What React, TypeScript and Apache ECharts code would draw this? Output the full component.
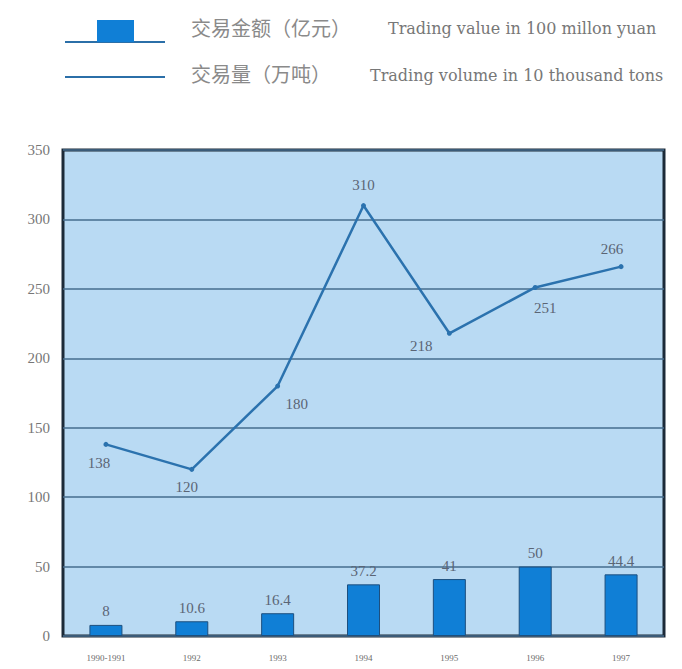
import React, { useEffect, useRef } from "react";
import * as echarts from "echarts";

const categories = ["1990-1991", "1992", "1993", "1994", "1995", "1996", "1997"];
const tradingValue = [8, 10.6, 16.4, 37.2, 41, 50, 44.4];
const tradingVolume = [138, 120, 180, 310, 218, 251, 266];
const volumeLabelOffsets: [number, number][] = [
  [-7, 19],
  [-5, 18],
  [19, 18],
  [0, -21],
  [-28, 13],
  [10, 21],
  [-9, -18],
];

const SERIF = "'Liberation Serif', 'DejaVu Serif', serif";
const WIDE_SERIF = "'DejaVu Serif', serif";
const CJK = "'Noto Sans CJK SC', sans-serif";

export default function App() {
  const ref = useRef<HTMLDivElement>(null);
  useEffect(() => {
    document.body.style.margin = "0";
    if (!ref.current) return;
    const chart = echarts.init(ref.current, undefined, { renderer: "svg" });
    chart.setOption({
      animation: false,
      backgroundColor: "#ffffff",
      grid: {
        left: 63,
        right: 18,
        top: 150,
        bottom: 33,
        show: true,
        backgroundColor: "#b9daf3",
        borderColor: "#1c2a38",
        borderWidth: 3,
      },
      xAxis: {
        type: "category",
        data: categories,
        axisLine: { show: false },
        axisTick: { show: false },
        axisLabel: { color: "#6b6b6b", fontSize: 9, fontFamily: SERIF, margin: 17 },
      },
      yAxis: {
        type: "value",
        min: 0,
        max: 350,
        interval: 50,
        axisLine: { show: false },
        axisTick: { show: false },
        axisLabel: { color: "#777777", fontSize: 15, fontFamily: SERIF, margin: 13 },
        splitLine: { lineStyle: { color: "#466d8e", width: 1.5 } },
      },
      series: [
        {
          type: "bar",
          data: tradingValue,
          barWidth: 33,
          itemStyle: { color: "#107fd6", borderColor: "#1d4f7e", borderWidth: 1 },
          label: {
            show: true,
            position: "top",
            distance: 6,
            color: "#5b6575",
            fontSize: 15,
            fontFamily: SERIF,
          },
          z: 2,
        },
        {
          type: "line",
          data: tradingVolume.map((v, i) => ({
            value: v,
            label: { offset: volumeLabelOffsets[i] },
          })),
          symbol: "circle",
          symbolSize: 5,
          lineStyle: { color: "#2b72ae", width: 2.5 },
          itemStyle: { color: "#2b72ae" },
          label: {
            show: true,
            position: "inside",
            color: "#5b6575",
            fontSize: 15,
            fontFamily: SERIF,
          },
          z: 3,
        },
      ],
      graphic: [
        { type: "line", shape: { x1: 65, y1: 42, x2: 165, y2: 42 }, style: { stroke: "#2b6fa8", lineWidth: 2 } },
        { type: "rect", shape: { x: 97, y: 20, width: 37, height: 22 }, style: { fill: "#107fd6" } },
        { type: "text", x: 191, y: 27, style: { text: "交易金额（亿元）", font: `20px ${CJK}`, fill: "#8a8a8a", verticalAlign: "middle" } },
        { type: "text", x: 388, y: 28, style: { text: "Trading value in 100 millon yuan", font: `16px ${WIDE_SERIF}`, fill: "#777777", verticalAlign: "middle" } },
        { type: "line", shape: { x1: 65, y1: 77, x2: 165, y2: 77 }, style: { stroke: "#2b6fa8", lineWidth: 2 } },
        { type: "text", x: 191, y: 73, style: { text: "交易量（万吨）", font: `20px ${CJK}`, fill: "#8a8a8a", verticalAlign: "middle" } },
        { type: "text", x: 370, y: 75, style: { text: "Trading volume in 10 thousand tons", font: `16px ${WIDE_SERIF}`, fill: "#777777", verticalAlign: "middle" } },
      ],
    });
    return () => chart.dispose();
  }, []);
  return <div ref={ref} style={{ width: 682, height: 669 }} />;
}
